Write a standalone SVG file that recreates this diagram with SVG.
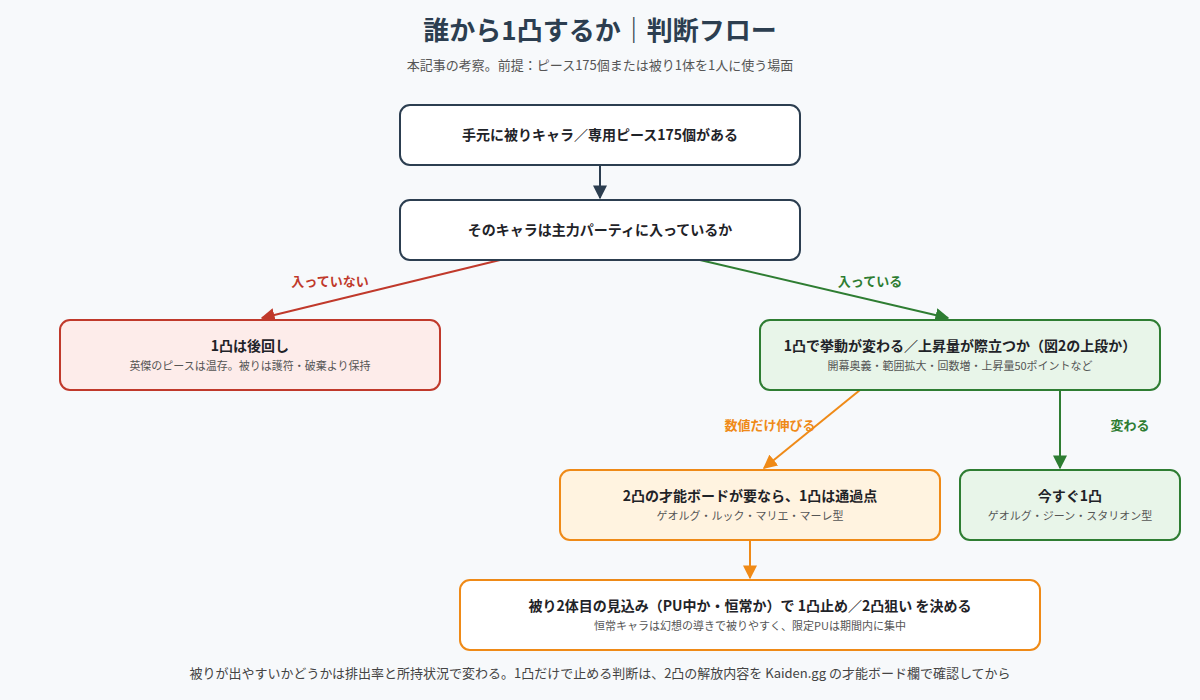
<svg xmlns="http://www.w3.org/2000/svg" width="1200" height="700" viewBox="0 0 1200 700">
<defs>
<style>
text{font-family:"Noto Sans CJK JP","Noto Sans",sans-serif;text-anchor:middle}
.t{font-size:14px;font-weight:bold;fill:#1f2328}
.s{font-size:11px;fill:#555}
.l{font-size:13px;font-weight:bold}
</style>
<marker id="aN" viewBox="0 0 10 10" refX="9" refY="5" markerWidth="7" markerHeight="7" orient="auto"><path d="M0,0L10,5L0,10z" fill="#2c3e50"/></marker>
<marker id="aR" viewBox="0 0 10 10" refX="9" refY="5" markerWidth="7" markerHeight="7" orient="auto"><path d="M0,0L10,5L0,10z" fill="#c0392b"/></marker>
<marker id="aG" viewBox="0 0 10 10" refX="9" refY="5" markerWidth="7" markerHeight="7" orient="auto"><path d="M0,0L10,5L0,10z" fill="#2e7d32"/></marker>
<marker id="aO" viewBox="0 0 10 10" refX="9" refY="5" markerWidth="7" markerHeight="7" orient="auto"><path d="M0,0L10,5L0,10z" fill="#ef8a17"/></marker>
</defs>
<rect width="1200" height="700" fill="#f7f9fb"/>
<text x="600" y="40" style="font-size:26px;font-weight:bold;fill:#2c3e50">誰から1凸するか｜判断フロー</text>
<text x="600" y="70" style="font-size:13px;fill:#555">本記事の考察。前提：ピース175個または被り1体を1人に使う場面</text>
<g id="connectors" fill="none" stroke-width="2">
<line x1="600" y1="165" x2="600" y2="198" stroke="#2c3e50" marker-end="url(#aN)"/>
<line x1="500" y1="260" x2="262" y2="318" stroke="#c0392b" marker-end="url(#aR)"/>
<line x1="700" y1="260" x2="948" y2="318" stroke="#2e7d32" marker-end="url(#aG)"/>
<line x1="860" y1="390" x2="764" y2="468" stroke="#ef8a17" marker-end="url(#aO)"/>
<line x1="1060" y1="390" x2="1060" y2="468" stroke="#2e7d32" marker-end="url(#aG)"/>
<line x1="750" y1="540" x2="750" y2="578" stroke="#ef8a17" marker-end="url(#aO)"/>
</g>
<text x="330" y="286" class="l" fill="#c0392b">入っていない</text>
<text x="870" y="286" class="l" fill="#2e7d32">入っている</text>
<text x="770" y="430" class="l" fill="#ef8a17">数値だけ伸びる</text>
<text x="1130" y="430" class="l" fill="#2e7d32">変わる</text>
<g id="n1"><rect x="400" y="105" width="400" height="60" rx="10" fill="#fff" stroke="#2c3e50" stroke-width="2"/><text x="600" y="140" class="t">手元に被りキャラ／専用ピース175個がある</text></g>
<g id="n2"><rect x="400" y="200" width="400" height="60" rx="10" fill="#fff" stroke="#2c3e50" stroke-width="2"/><text x="600" y="235" class="t">そのキャラは主力パーティに入っているか</text></g>
<g id="n3"><rect x="60" y="320" width="380" height="70" rx="10" fill="#fdecea" stroke="#c0392b" stroke-width="2"/><text x="250" y="351" class="t">1凸は後回し</text><text x="250" y="370" class="s">英傑のピースは温存。被りは護符・破棄より保持</text></g>
<g id="n4"><rect x="760" y="320" width="400" height="70" rx="10" fill="#e8f5e9" stroke="#2e7d32" stroke-width="2"/><text x="960" y="351" class="t">1凸で挙動が変わる／上昇量が際立つか（図2の上段か）</text><text x="960" y="370" class="s">開幕奥義・範囲拡大・回数増・上昇量50ポイントなど</text></g>
<g id="n5"><rect x="560" y="470" width="380" height="70" rx="10" fill="#fff3e0" stroke="#ef8a17" stroke-width="2"/><text x="750" y="501" class="t">2凸の才能ボードが要なら、1凸は通過点</text><text x="750" y="520" class="s">ゲオルグ・ルック・マリエ・マーレ型</text></g>
<g id="n6"><rect x="960" y="470" width="220" height="70" rx="10" fill="#e8f5e9" stroke="#2e7d32" stroke-width="2"/><text x="1070" y="501" class="t">今すぐ1凸</text><text x="1070" y="520" class="s">ゲオルグ・ジーン・スタリオン型</text></g>
<g id="n7"><rect x="460" y="580" width="580" height="70" rx="10" fill="#fff" stroke="#ef8a17" stroke-width="2"/><text x="750" y="611" class="t">被り2体目の見込み（PU中か・恒常か）で 1凸止め／2凸狙い を決める</text><text x="750" y="630" class="s">恒常キャラは幻想の導きで被りやすく、限定PUは期間内に集中</text></g>
<text x="600" y="678" style="font-size:13px;fill:#444">被りが出やすいかどうかは排出率と所持状況で変わる。1凸だけで止める判断は、2凸の解放内容を Kaiden.gg の才能ボード欄で確認してから</text>
</svg>
